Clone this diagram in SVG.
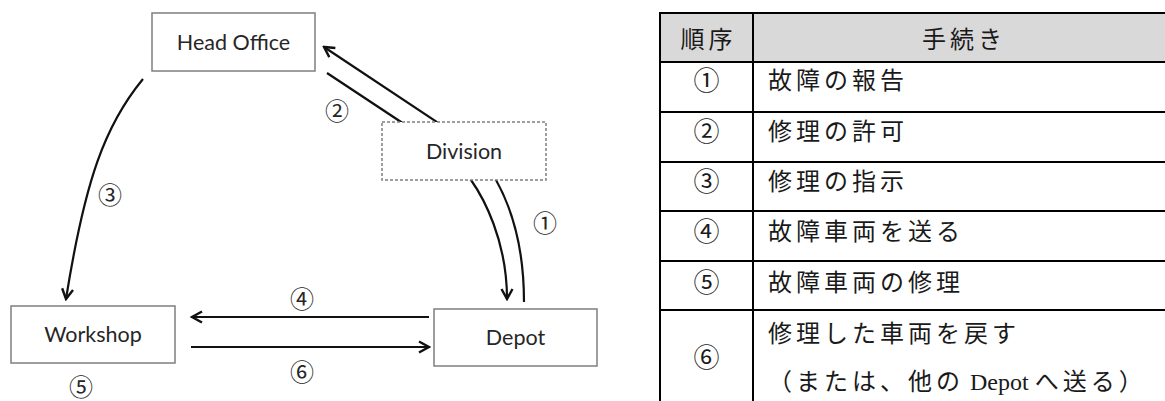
<svg xmlns="http://www.w3.org/2000/svg" width="1165" height="401" viewBox="0 0 1165 401">
  <style>
    .box { fill: #ffffff; stroke: #7f7f7f; stroke-width: 1.5; }
    .dash { stroke-dasharray: 3 2; }
    .name { font-family: Lato, "Open Sans", sans-serif; font-size: 21.5px; fill: #262626; text-anchor: middle; }
    .flow { fill: none; stroke: #111111; stroke-width: 2.2; }
    .step { font-family: "Noto Sans CJK JP", sans-serif; font-size: 24px; fill: #262626; text-anchor: middle; dominant-baseline: central; }
    .grid { stroke: #000000; stroke-width: 2; fill: none; }
    .cell { font-family: "Liberation Serif", "Noto Sans CJK JP", serif; font-size: 24px; fill: #1a1a1a; dominant-baseline: central; }
    .num { text-anchor: middle; font-size: 26px; }
    .jp { letter-spacing: 4px; }
  </style>
  <defs>
    <marker id="arrow" viewBox="-12 -7 14 14" markerWidth="14" markerHeight="14" refX="0" refY="0" orient="auto" markerUnits="userSpaceOnUse">
      <path d="M-10,-5.5 L0,0 L-10,5.5" fill="none" stroke="#111111" stroke-width="2.4"/>
    </marker>
  </defs>

  <!-- connectors (drawn first so the Division box covers the pass-through) -->
  <g id="connectors">
    <!-- 1: Depot -> Division -> Head Office -->
    <path class="flow" d="M524,302 C524,252 515,214 496,180 L437,122 L324,47" marker-end="url(#arrow)"/>
    <!-- 2: Head Office -> Division -> Depot -->
    <path class="flow" d="M327,73 L401,122 L471,180 C483,197 507,240 507,299" marker-end="url(#arrow)"/>
    <!-- 3: Head Office -> Workshop -->
    <path class="flow" d="M143,79 C105,125 85,180 66,299" marker-end="url(#arrow)"/>
    <!-- 4: Depot -> Workshop -->
    <path class="flow" d="M429,317 L192,317" marker-end="url(#arrow)"/>
    <!-- 6: Workshop -> Depot -->
    <path class="flow" d="M191,347 L429,347" marker-end="url(#arrow)"/>
  </g>

  <g id="head-office">
    <rect class="box" x="152" y="13" width="163" height="58"/>
    <text class="name" x="233.5" y="50">Head Office</text>
  </g>
  <g id="division">
    <rect class="box dash" x="382" y="122" width="164" height="58"/>
    <text class="name" x="464" y="158.5">Division</text>
  </g>
  <g id="workshop">
    <rect class="box" x="11" y="306" width="164" height="57"/>
    <text class="name" x="93" y="342">Workshop</text>
  </g>
  <g id="depot">
    <rect class="box" x="434" y="309" width="163" height="57"/>
    <text class="name" x="515.5" y="345">Depot</text>
  </g>

  <g id="step-labels">
    <text class="step" x="545" y="221">①</text>
    <text class="step" x="337" y="109">②</text>
    <text class="step" x="110" y="193">③</text>
    <text class="step" x="302" y="297">④</text>
    <text class="step" x="81" y="385">⑤</text>
    <text class="step" x="302" y="370">⑥</text>
  </g>

  <!-- procedure table -->
  <g id="table">
    <rect x="660" y="13" width="512" height="49" fill="#d9d9d9"/>
    <path class="grid" d="M660,13 H1172 M660,62 H1172 M660,112 H1172 M660,162 H1172 M660,211 H1172 M660,261 H1172 M660,310 H1172 M660,12 V410 M753,12 V410 M1172,12 V410"/>
    <g id="row-header">
      <text class="cell jp" x="708.5" y="40" text-anchor="middle">順序</text>
      <text class="cell jp" x="964" y="40" text-anchor="middle">手続き</text>
    </g>
    <g id="row-1">
      <text class="cell num" x="706.5" y="81">①</text>
      <text class="cell jp" x="768" y="81">故障の報告</text>
    </g>
    <g id="row-2">
      <text class="cell num" x="706.5" y="132">②</text>
      <text class="cell jp" x="768" y="132">修理の許可</text>
    </g>
    <g id="row-3">
      <text class="cell num" x="706.5" y="182">③</text>
      <text class="cell jp" x="768" y="182">修理の指示</text>
    </g>
    <g id="row-4">
      <text class="cell num" x="706.5" y="232">④</text>
      <text class="cell jp" x="768" y="232">故障車両を送る</text>
    </g>
    <g id="row-5">
      <text class="cell num" x="706.5" y="283">⑤</text>
      <text class="cell jp" x="768" y="283">故障車両の修理</text>
    </g>
    <g id="row-6">
      <text class="cell num" x="706.5" y="358">⑥</text>
      <text class="cell jp" x="768" y="334">修理した車両を戻す</text>
      <text class="cell" x="768" y="382"><tspan class="jp">（または、他の</tspan> Depot <tspan class="jp">へ送る）</tspan></text>
    </g>
  </g>
</svg>
